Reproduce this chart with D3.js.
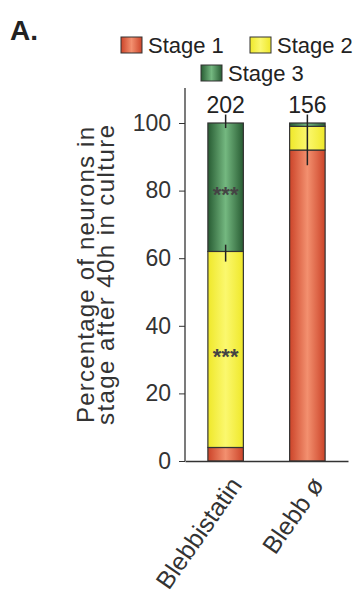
<!DOCTYPE html>
<html>
<head>
<meta charset="utf-8">
<script src="https://cdn.jsdelivr.net/npm/d3@7"></script>
<style>
  body { margin: 0; background: #fff; }
  text { font-family: "Liberation Sans", Arial, sans-serif; fill: #222; }
</style>
</head>
<body>
<div id="chart"></div>
<script>
// data
var categories = ["Blebbistatin", "Blebb \u00f8"];
var counts = ["202", "156"];
var stage1 = [4, 92];
var stage2 = [58, 7];
var stage3 = [38, 1];
var stageNames = ["Stage 1", "Stage 2", "Stage 3"];
var errLow = [[98.5, 59], [87.5]];
var errHigh = [[102.5, 64], [102.5]];
var starsAt = [80, 32]; // "***" marks on Blebbistatin
var yTicks = [0, 20, 40, 60, 80, 100];

var width = 360, height = 596;
var svg = d3.select("#chart").append("svg")
    .attr("width", width).attr("height", height);

var defs = svg.append("defs");
var colors = [
    ["#cc4429", "#f3906f"],
    ["#efe82a", "#fbf86e"],
    ["#285c33", "#74b880"]
];
colors.forEach(function (c, i) {
    var g = defs.append("linearGradient").attr("id", "g" + i)
        .attr("x1", "0%").attr("x2", "100%").attr("y1", "0%").attr("y2", "0%");
    g.append("stop").attr("offset", "0%").attr("stop-color", c[0]);
    g.append("stop").attr("offset", "50%").attr("stop-color", c[1]);
    g.append("stop").attr("offset", "100%").attr("stop-color", c[0]);
});

var x = d3.scaleBand().domain(categories).range([185, 348])
    .paddingInner(0.566).paddingOuter(0.28);
var y = d3.scaleLinear().domain([0, 100]).range([461, 123]);

// panel letter
svg.append("text").attr("x", 10).attr("y", 40)
    .style("font-size", "28px").style("font-weight", "bold").text("A.");

// legend
var legendPos = [[121, 37], [250, 37], [201, 65]];
stageNames.forEach(function (n, i) {
    var p = legendPos[i];
    svg.append("rect").attr("x", p[0]).attr("y", p[1])
        .attr("width", 21).attr("height", 16)
        .attr("fill", "url(#g" + i + ")").attr("stroke", "#333").attr("stroke-width", 1);
    svg.append("text").attr("x", p[0] + 27).attr("y", p[1] + 16)
        .style("font-size", "22px").text(n);
});

// stacked data
var rows = categories.map(function (c, i) {
    return { cat: c, s1: stage1[i], s2: stage2[i], s3: stage3[i] };
});
var stack = d3.stack().keys(["s1", "s2", "s3"])(rows);

var layers = svg.append("g").selectAll("g").data(stack).join("g")
    .attr("fill", function (d, i) { return "url(#g" + i + ")"; });
layers.selectAll("rect").data(function (d) { return d; }).join("rect")
    .attr("x", function (d) { return x(d.data.cat); })
    .attr("width", x.bandwidth())
    .attr("y", function (d) { return y(d[1]); })
    .attr("height", function (d) { return y(d[0]) - y(d[1]); })
    .attr("stroke", "#333").attr("stroke-width", 1.2);

// error bars
categories.forEach(function (c, i) {
    errLow[i].forEach(function (lo, j) {
        svg.append("line")
            .attr("x1", x(c) + x.bandwidth() / 2).attr("x2", x(c) + x.bandwidth() / 2)
            .attr("y1", y(lo)).attr("y2", y(errHigh[i][j]))
            .attr("stroke", "#222").attr("stroke-width", 1.5);
    });
});

// significance stars
starsAt.forEach(function (v) {
    svg.append("text")
        .attr("x", x(categories[0]) + x.bandwidth() / 2).attr("y", y(v) + 11)
        .attr("text-anchor", "middle").style("font-size", "22px")
        .style("font-weight", "bold").style("fill", "#444").text("***");
});

// counts above bars
categories.forEach(function (c, i) {
    svg.append("text").attr("x", x(c) + x.bandwidth() / 2).attr("y", 113)
        .attr("text-anchor", "middle").style("font-size", "23px").text(counts[i]);
});

// y axis
var yAxis = svg.append("g").attr("transform", "translate(185,0)")
    .call(d3.axisLeft(y).tickValues(yTicks).tickSize(6).tickPadding(8));
yAxis.select(".domain").attr("d", "M0," + y(0) + "V88").attr("stroke", "#333").attr("stroke-width", 1.3);
yAxis.selectAll(".tick line").attr("stroke", "#333");
yAxis.selectAll("text").style("font-size", "23px").style("fill", "#333");

// x axis
var xAxis = svg.append("g").attr("transform", "translate(0," + y(0) + ")")
    .call(d3.axisBottom(x).tickSize(0).tickPadding(0));
xAxis.select(".domain").attr("stroke", "#333").attr("stroke-width", 1.3);
xAxis.selectAll("text")
    .style("font-size", "25px").style("fill", "#333")
    .attr("text-anchor", "end")
    .attr("y", 0)
    .attr("transform", "translate(3,14) rotate(-55)")
    .attr("dx", "0").attr("dy", "0.7em");

// y label
var yl = svg.append("text").attr("transform", "translate(97,275) rotate(-90)")
    .attr("text-anchor", "middle").style("font-size", "24px").style("fill", "#333");
yl.append("tspan").attr("x", 0).attr("y", -3).attr("textLength", 296)
    .attr("lengthAdjust", "spacing").text("Percentage of neurons in");
yl.append("tspan").attr("x", 0).attr("y", 17).attr("textLength", 300)
    .attr("lengthAdjust", "spacing").text("stage after 40h in culture");
</script>
</body>
</html>
